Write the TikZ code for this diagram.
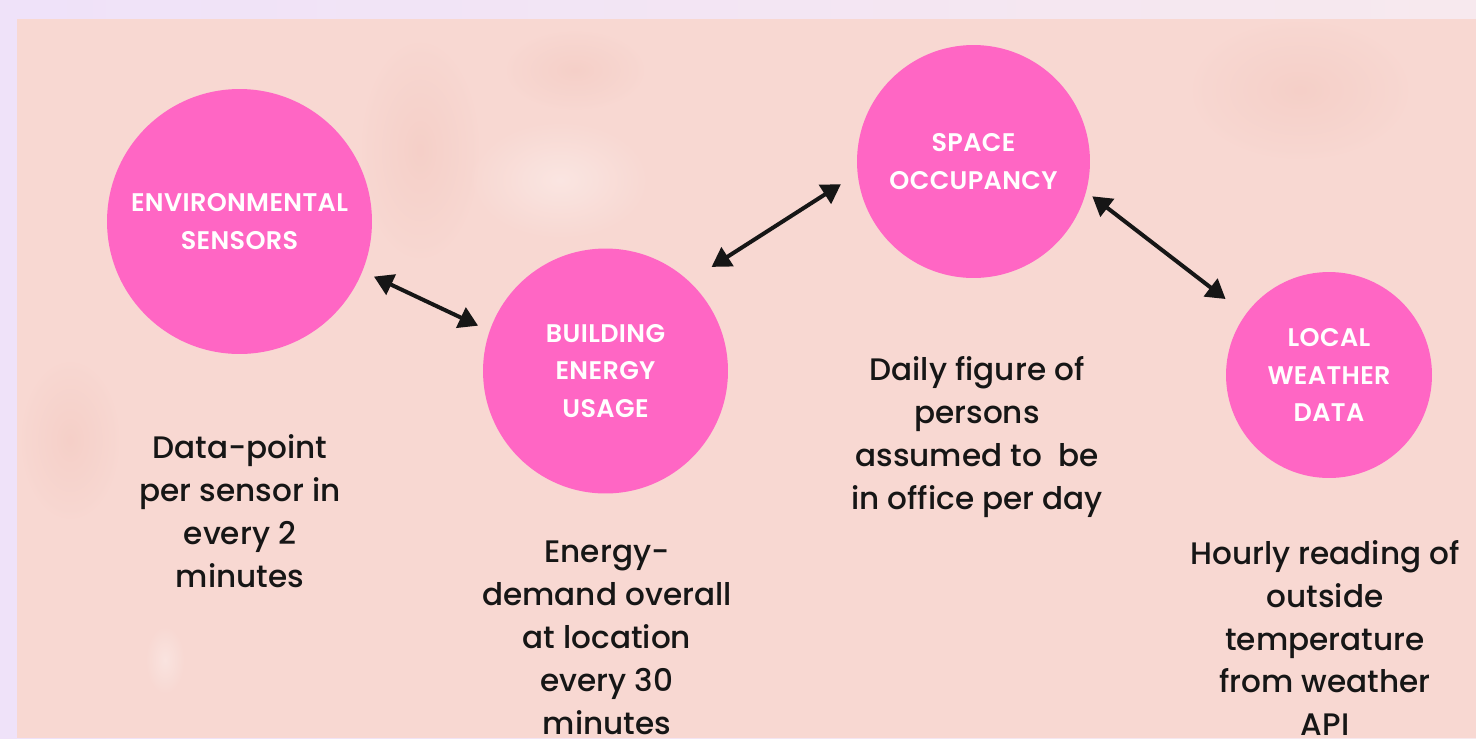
\documentclass[tikz,border=0pt]{standalone}
\usepackage{fontspec}
\setmainfont{Poppins}[UprightFont=* Medium]
\newfontfamily\headfont{Poppins}[UprightFont=* SemiBold, LetterSpace=1.5]
\usetikzlibrary{arrows.meta}

\definecolor{lavender}{HTML}{EFE2F9}
\definecolor{blush}{HTML}{F7E9EE}
\definecolor{peach}{HTML}{F8D8D2}
\definecolor{blotch}{HTML}{F1C0B6}
\definecolor{hotpink}{HTML}{FF66C4}
\definecolor{ink}{HTML}{161616}

\begin{document}
\begin{tikzpicture}[x=0.02cm,y=-0.02cm]
        \tikzstyle{bubble}=[circle,fill=hotpink,text=white,align=center,inner sep=0pt,
                            font=\headfont\fontsize{14.5}{21.3}\selectfont]
        \tikzstyle{caption}=[align=center,text=ink,inner sep=0pt,
                             font=\fontsize{17.7}{24.4}\selectfont]
        \tikzstyle{edge}=[draw,line width=0.08cm,ink,
                          {Triangle[length=0.38cm,width=0.44cm]}-{Triangle[length=0.38cm,width=0.44cm]}]
        \tikzstyle{stain}=[inner color=blotch,outer color=peach,opacity=0.35]

        % paper
        \shade[left color=lavender,right color=blush] (0,0) rectangle (1476,738);
        \useasboundingbox (0,0) rectangle (1476,738);
        \fill[peach] (17,19) rectangle (1476,738);
        \begin{scope}
        \clip (17,19) rectangle (1476,738);
        \shade[stain] (420,150) ellipse [x radius=60,y radius=110];
        \shade[stain] (575,70) ellipse [x radius=70,y radius=40];
        \shade[stain] (1300,90) ellipse [x radius=110,y radius=70];
        \shade[stain] (70,440) ellipse [x radius=50,y radius=80];
        \shade[inner color=white,outer color=peach,opacity=0.35] (560,180) ellipse [x radius=90,y radius=60];
        \shade[inner color=white,outer color=peach,opacity=0.3] (165,660) ellipse [x radius=20,y radius=35];
        \end{scope}

        % sources
        \node [bubble,minimum size=5.3cm]  (env) at (239.5,221.5) {ENVIRONMENTAL\\SENSORS};
        \node [bubble,minimum size=4.9cm]  (bld) at (605.5,371)   {BUILDING\\ENERGY\\USAGE};
        \node [bubble,minimum size=4.66cm] (occ) at (973.5,161.5) {SPACE\\OCCUPANCY};
        \node [bubble,minimum size=4.12cm] (wx)  at (1329,375)    {LOCAL\\WEATHER\\DATA};

        % what each one delivers
        \node [caption] (envtxt) at (240,511)  {Data-point\\per sensor in\\every 2\\minutes};
        \node [caption] (bldtxt) at (607,638)  {Energy-\\demand overall\\at location\\every 30\\minutes};
        \node [caption] (occtxt) at (977,437)  {Daily figure of\\persons\\assumed to~~be\\in office per day};
        \node [caption] (wxtxt)  at (1325,638) {Hourly reading of\\outside\\temperature\\from weather\\API};

        \path (env.-22) edge [edge,shorten <=0.25cm,shorten >=0.25cm] (bld.161);
        \path (bld.47)  edge [edge,shorten <=0.53cm,shorten >=0.39cm] (occ.-174.7);
        \path (occ.-15.7) edge [edge,shorten <=0.15cm,shorten >=0.5cm] (wx.144.2);
\end{tikzpicture}
\end{document}
